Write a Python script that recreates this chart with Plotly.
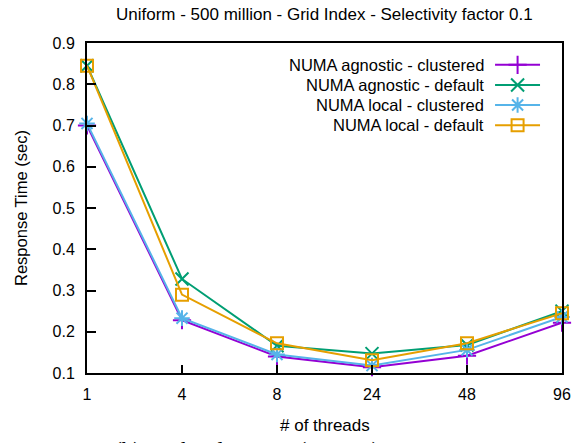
import plotly.graph_objects as go

# Response time (sec) per thread count, Uniform 500M, Grid Index, selectivity 0.1
threads = ["1", "4", "8", "24", "48", "96"]
agnostic_clustered = [0.700, 0.228, 0.140, 0.114, 0.142, 0.222]
agnostic_default = [0.845, 0.328, 0.166, 0.147, 0.168, 0.250]
local_clustered = [0.705, 0.233, 0.145, 0.118, 0.156, 0.236]
local_default = [0.845, 0.290, 0.172, 0.131, 0.172, 0.245]

series_names = [
    "NUMA agnostic - clustered",
    "NUMA agnostic - default",
    "NUMA local - clustered",
    "NUMA local - default",
]
series_values = [agnostic_clustered, agnostic_default, local_clustered, local_default]
colors = ["#9400d3", "#009e73", "#56b4e9", "#e69f00"]
symbols = ["cross-thin", "x-thin", "asterisk", "square-open"]
marker_sizes = [13, 13, 13, 12]

FONT = "Liberation Sans, Arial, sans-serif"

fig = go.Figure()

for name, vals, col, sym, ms in zip(series_names, series_values, colors, symbols, marker_sizes):
    fig.add_trace(go.Scatter(
        x=threads, y=vals, name=name, mode="lines+markers",
        line=dict(color=col, width=2),
        marker=dict(symbol=sym, size=ms, color=col, line=dict(color=col, width=2)),
        cliponaxis=False, showlegend=False,
    ))

# Key in the upper right: right-aligned label followed by a line sample with its symbol
for i, (name, col, sym, ms) in enumerate(zip(series_names, colors, symbols, marker_sizes)):
    fig.add_trace(go.Scatter(
        x=[0, 0.5, 1], y=[i, i, i], mode="lines",
        line=dict(color=col, width=2),
        xaxis="x2", yaxis="y2", showlegend=False, hoverinfo="skip",
    ))
    fig.add_trace(go.Scatter(
        x=[0.5], y=[i], mode="markers",
        marker=dict(symbol=sym, size=ms, color=col, line=dict(color=col, width=2)),
        xaxis="x2", yaxis="y2", showlegend=False, hoverinfo="skip", cliponaxis=False,
    ))

annotations = []
for i, name in enumerate(series_names):
    annotations.append(dict(
        x=0, y=i, xref="x2", yref="y2", text=name, showarrow=False,
        xanchor="right", yanchor="middle", xshift=-9,
        font=dict(family=FONT, size=16.5, color="black"),
    ))

annotations.append(dict(
    x=0.5, y=1, xref="paper", yref="paper", yshift=29,
    text="Uniform - 500 million - Grid Index - Selectivity factor 0.1",
    showarrow=False, xanchor="center", yanchor="middle",
    font=dict(family=FONT, size=17, color="black"),
))
annotations.append(dict(
    x=0.5, y=0, xref="paper", yref="paper", yshift=-52,
    text="# of threads", showarrow=False, xanchor="center", yanchor="middle",
    font=dict(family=FONT, size=17, color="black"),
))
annotations.append(dict(
    x=-0.139, y=0.5, xref="paper", yref="paper", textangle=-90,
    text="Response Time (sec)", showarrow=False, xanchor="center", yanchor="middle",
    font=dict(family=FONT, size=16.5, color="black"),
))
annotations.append(dict(
    x=0.053, y=0, xref="paper", yref="paper", yshift=-63,
    text="(b) High selectivity (σ = 0.1)", showarrow=False,
    xanchor="left", yanchor="top",
    font=dict(family="Liberation Serif, serif", size=23, color="black"),
))

fig.update_layout(
    width=584, height=443,
    margin=dict(l=87, r=22, t=43, b=70),
    paper_bgcolor="white", plot_bgcolor="white",
    showlegend=False,
    font=dict(family=FONT, size=16, color="black"),
    xaxis=dict(
        type="category", range=[0, 5],
        showline=True, mirror=True, linecolor="black", linewidth=2,
        ticks="inside", ticklen=8, tickwidth=1.5, tickcolor="black",
        showgrid=False, zeroline=False, ticklabelstandoff=6,
        tickfont=dict(family=FONT, size=16),
    ),
    yaxis=dict(
        range=[0.1, 0.9], dtick=0.1, tickformat=".1f",
        showline=True, mirror=True, linecolor="black", linewidth=2,
        ticks="inside", ticklen=9, tickwidth=1.5, tickcolor="black",
        showgrid=False, zeroline=False, ticklabelstandoff=7,
        tickfont=dict(family=FONT, size=16),
    ),
    xaxis2=dict(domain=[0.859, 0.954], range=[0, 1], visible=False,
                fixedrange=True, anchor="y2"),
    yaxis2=dict(domain=[0.745, 0.94], range=[3.1, -0.1], visible=False,
                fixedrange=True, anchor="x2"),
    annotations=annotations,
)

fig.write_html("out.html")
